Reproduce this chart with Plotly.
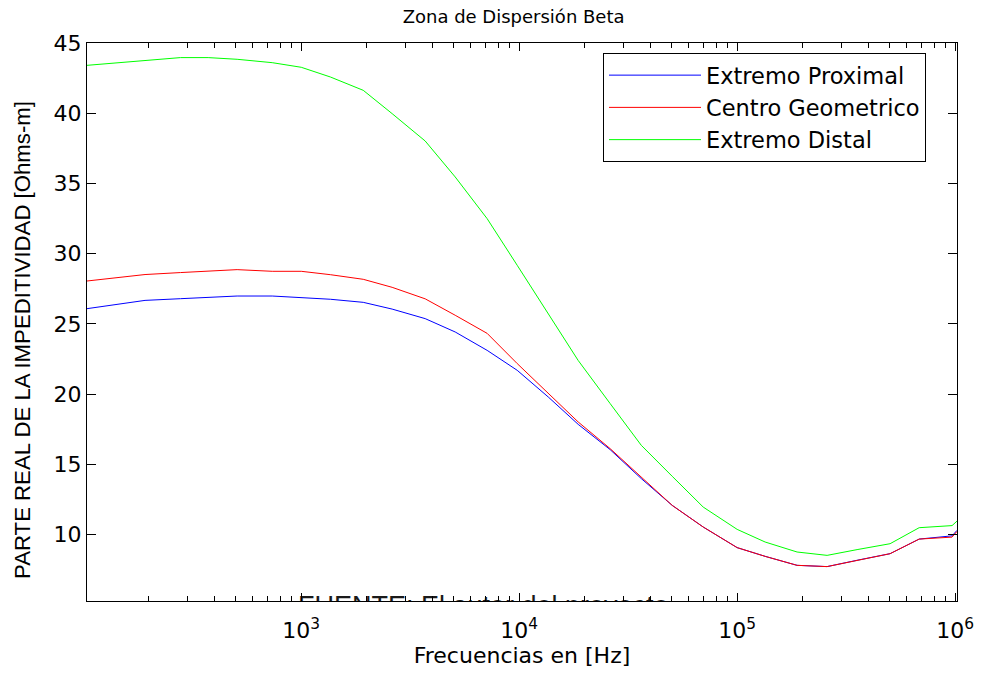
import plotly.graph_objects as go
import numpy as np

# ---- data ----
freq_hz = [104, 140, 192, 279, 374, 508, 736, 1000, 1360, 1925, 2612, 3704, 5085,
           7127, 9790, 13590, 18650, 26140, 36300, 50350, 69850, 100000, 134400,
           188300, 258600, 355000, 503000, 684000, 968000, 1020000]

extremo_proximal = [26.08, 26.39, 26.67, 26.79, 26.89, 26.98, 26.98, 26.87, 26.75, 26.53,
                    26.05, 25.37, 24.42, 23.11, 21.69, 19.79, 17.84, 16.04, 13.98, 12.07,
                    10.53, 9.06, 8.44, 7.80, 7.71, 8.16, 8.63, 9.67, 9.90, 10.29]

centro_geometrico = [28.05, 28.28, 28.51, 28.65, 28.75, 28.86, 28.74, 28.74, 28.50, 28.17,
                     27.60, 26.78, 25.61, 24.32, 22.17, 20.03, 18.01, 16.11, 14.09, 12.07,
                     10.53, 9.06, 8.44, 7.80, 7.71, 8.16, 8.63, 9.67, 9.81, 10.22]

extremo_distal = [43.41, 43.58, 43.77, 43.96, 43.96, 43.84, 43.60, 43.27, 42.58, 41.63,
                  39.97, 38.02, 35.46, 32.49, 29.17, 25.75, 22.39, 19.32, 16.35, 14.14,
                  11.95, 10.36, 9.46, 8.75, 8.51, 8.92, 9.34, 10.48, 10.63, 10.95]

series_names = ["Extremo Proximal", "Centro Geometrico", "Extremo Distal"]
series_colors = ["#0000FF", "#FF0000", "#00FF00"]

x_tickvals = [1e3, 1e4, 1e5, 1e6]
x_ticktext = ["10<sup>3</sup>", "10<sup>4</sup>", "10<sup>5</sup>", "10<sup>6</sup>"]
x_minor_tickvals = [m * 10 ** e for e in range(2, 6) for m in range(2, 10)]
y_tickvals = [10, 15, 20, 25, 30, 35, 40, 45]

watermark_text = "FUENTE: El autor del proyecto"
watermark_x = [6840]
watermark_y = [4.72]

FONT = "DejaVu Sans"
X_RANGE = [np.log10(104), np.log10(1.02e6)]

fig = go.Figure()

# source text partly hidden behind the lower axis (clipped to the plot area)
fig.add_trace(go.Scatter(
    x=watermark_x, y=watermark_y, mode="text", text=[watermark_text],
    textfont=dict(family="Liberation Sans", size=27, color="#1a1a1a"),
    showlegend=False, hoverinfo="skip", cliponaxis=True))

for name, vals, col in zip(series_names,
                           [extremo_proximal, centro_geometrico, extremo_distal],
                           series_colors):
    fig.add_trace(go.Scatter(x=freq_hz, y=vals, mode="lines", name=name,
                             line=dict(color=col, width=1)))

# invisible helper trace so the minor-tick axis is laid out
fig.add_trace(go.Scatter(x=[freq_hz[0]], y=[extremo_proximal[0]], xaxis="x2",
                         mode="markers", marker=dict(opacity=0), showlegend=False,
                         hoverinfo="skip"))

fig.update_layout(
    width=982, height=673,
    paper_bgcolor="white", plot_bgcolor="white",
    margin=dict(l=87, r=25, t=43, b=72, autoexpand=False),
    title=dict(text="Zona de Dispersión Beta", x=0.523, xanchor="center",
               y=1 - 17 / 673, yanchor="middle", yref="container",
               font=dict(family=FONT, size=18, color="black")),
    font=dict(family=FONT, size=22, color="black"),
    showlegend=True,
    legend=dict(x=(603 - 87) / 870, y=(601 - 53) / 558, xanchor="left", yanchor="top",
                bordercolor="black", borderwidth=1, bgcolor="white",
                font=dict(family=FONT, size=22.5, color="black"),
                itemwidth=92, tracegroupgap=0),
    annotations=[dict(text="PARTE REAL DE LA IMPEDITIVIDAD [Ohms-m]",
                      xref="paper", yref="paper", x=(22 - 87) / 870,
                      y=(601 - 340) / 558, xanchor="center", yanchor="middle",
                      textangle=-90, showarrow=False,
                      font=dict(family="Liberation Sans", size=22.2, color="black"))],
    xaxis=dict(
        type="log", range=X_RANGE,
        tickvals=x_tickvals, ticktext=x_ticktext,
        ticks="inside", ticklen=8, tickcolor="black", tickwidth=1,
        ticklabelstandoff=10,
        showline=True, linecolor="black", linewidth=1, mirror="ticks",
        showgrid=False, zeroline=False,
        tickfont=dict(family=FONT, size=22, color="black"),
        title=dict(text="Frecuencias en [Hz]", standoff=4,
                   font=dict(family=FONT, size=22, color="black")),
    ),
    xaxis2=dict(type="log", range=X_RANGE, overlaying="x", side="bottom",
                tickvals=x_minor_tickvals, ticks="inside", ticklen=5,
                tickcolor="black", tickwidth=1, showticklabels=False,
                showline=False, mirror="ticks", showgrid=False, zeroline=False),
    yaxis=dict(
        range=[5.26, 45.0], tickvals=y_tickvals,
        ticks="inside", ticklen=9, tickcolor="black", tickwidth=1,
        showline=True, linecolor="black", linewidth=1, mirror="ticks",
        showgrid=False, zeroline=False,
        tickfont=dict(family=FONT, size=22, color="black"),
    ),
)

fig.write_html("out.html")
